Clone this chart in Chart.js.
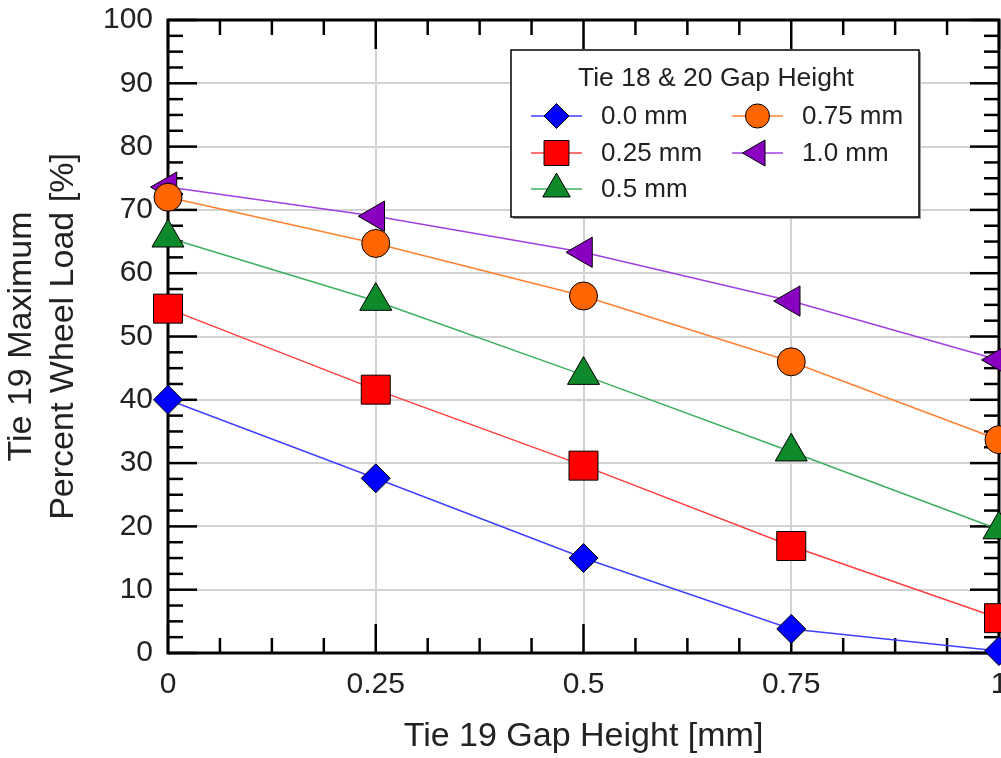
<!DOCTYPE html>
<html>
<head>
<meta charset="utf-8">
<script src="https://cdn.jsdelivr.net/npm/chart.js@4.4.1/dist/chart.umd.min.js"></script>
<style>
  html, body { margin: 0; padding: 0; background: #fff; overflow: hidden; }
  #wrap { width: 1001px; height: 758px; position: relative; }
</style>
</head>
<body>
<div id="wrap"><canvas id="gapChart"></canvas></div>
<script>
// Tie 19 gap height on the x axis
const gapX = [0, 0.25, 0.5, 0.75, 1];

// Tie 19 maximum percent wheel load, one list per tie 18 & 20 gap height
const load00 = [40.0, 27.6, 15.0, 3.8, 0.3];
const load025 = [54.4, 41.6, 29.6, 16.9, 5.5];
const load05 = [65.6, 55.6, 43.9, 31.8, 19.5];
const load075 = [72.0, 64.7, 56.4, 46.0, 33.7];
const load10 = [73.6, 69.0, 63.3, 55.6, 46.3];

const seriesNames = ['0.0 mm', '0.25 mm', '0.5 mm', '0.75 mm', '1.0 mm'];
const xTickStep = 0.25;
const yTickStep = 10;

const FONT = "'Liberation Sans', Arial, sans-serif";

const toPoints = vals => gapX.map((x, i) => ({ x: x, y: vals[i] }));

function series(label, vals, line, fill, style, radius, rotation) {
    return {
        label: label,
        data: toPoints(vals),
        borderColor: line,
        borderWidth: 1.5,
        backgroundColor: fill,
        pointBackgroundColor: fill,
        pointBorderColor: '#000',
        pointBorderWidth: 1,
        pointStyle: style,
        pointRadius: radius,
        pointRotation: rotation || 0,
        showLine: true,
        tension: 0,
        clip: false
    };
}

// inward major/minor ticks on all four sides plus the black frame
const frameTicks = {
    id: 'frameTicks',
    beforeDatasetsDraw(chart) {
        const { ctx, chartArea: a, scales: { x, y } } = chart;
        const seg = (x1, y1, x2, y2) => { ctx.beginPath(); ctx.moveTo(x1, y1); ctx.lineTo(x2, y2); ctx.stroke(); };
        ctx.save();
        ctx.strokeStyle = '#000';
        ctx.lineWidth = 2.5;
        for (let i = 0; i <= 16; i++) {
            const px = x.getPixelForValue(i * 0.0625);
            const len = i % 4 === 0 ? 29 : 15;
            seg(px, a.bottom, px, a.bottom - len);
            seg(px, a.top, px, a.top + len);
        }
        for (let i = 0; i <= 40; i++) {
            const py = y.getPixelForValue(i * 2.5);
            const len = i % 4 === 0 ? 29 : 15;
            seg(a.left, py, a.left + len, py);
            seg(a.right, py, a.right - len, py);
        }
        ctx.lineWidth = 3;
        ctx.strokeRect(a.left, a.top, a.right - a.left, a.bottom - a.top);
        ctx.restore();
    }
};

// boxed two-column legend with a title
const boxLegend = {
    id: 'boxLegend',
    afterDraw(chart) {
        const { ctx, chartArea: a } = chart;
        const bx = a.left + 343, by = a.top + 30, bw = 408, bh = 167;
        ctx.save();
        ctx.fillStyle = '#9a9a9a';
        ctx.fillRect(bx + 2, by + 2, bw, bh);
        ctx.fillStyle = '#fff';
        ctx.fillRect(bx, by, bw, bh);
        ctx.strokeStyle = '#000';
        ctx.lineWidth = 1.5;
        ctx.strokeRect(bx, by, bw, bh);

        ctx.fillStyle = '#222';
        ctx.font = '26.5px ' + FONT;
        ctx.textAlign = 'center';
        ctx.textBaseline = 'middle';
        ctx.fillText('Tie 18 & 20 Gap Height', bx + 205, by + 29);

        ctx.font = '26px ' + FONT;
        const cols = [bx + 20, bx + 221];
        const rows = [by + 66, by + 103, by + 139];
        chart.data.datasets.forEach((ds, i) => {
            const cx = cols[Math.floor(i / 3)];
            const cy = rows[i % 3];
            ctx.strokeStyle = ds.borderColor;
            ctx.lineWidth = 1.5;
            ctx.beginPath();
            ctx.moveTo(cx, cy);
            ctx.lineTo(cx + 51, cy);
            ctx.stroke();
            ctx.fillStyle = ds.pointBackgroundColor;
            ctx.strokeStyle = '#000';
            ctx.lineWidth = 1;
            Chart.helpers.drawPoint(ctx, {
                pointStyle: ds.pointStyle,
                rotation: ds.pointRotation,
                radius: ds.pointRadius * 0.86,
                borderWidth: 1
            }, cx + 25.5, cy);
            ctx.fillStyle = '#222';
            ctx.textAlign = 'left';
            ctx.fillText(ds.label, cx + 70, cy + 1);
        });
        ctx.restore();
    }
};

new Chart(document.getElementById('gapChart'), {
    type: 'scatter',
    data: {
        datasets: [
            series(seriesNames[0], load00, '#4040ff', '#0000ff', 'rectRot', 14.5),
            series(seriesNames[1], load025, '#ff4040', '#ff0000', 'rect', 20.5),
            series(seriesNames[2], load05, '#3cb060', '#0f8a2a', 'triangle', 18.5),
            series(seriesNames[3], load075, '#ff8030', '#ff6600', 'circle', 14),
            series(seriesNames[4], load10, '#a040e0', '#8a00c0', 'triangle', 17.5, -90)
        ]
    },
    options: {
        responsive: true,
        maintainAspectRatio: false,
        animation: false,
        events: [],
        layout: { autoPadding: false, padding: { top: 20, left: 0, right: 2, bottom: 0 } },
        plugins: {
            legend: { display: false },
            tooltip: { enabled: false }
        },
        scales: {
            x: {
                type: 'linear',
                min: 0,
                max: 1,
                border: { display: false },
                grid: { color: '#d2d2d2', lineWidth: 2, drawTicks: false },
                ticks: {
                    stepSize: xTickStep,
                    padding: 14,
                    color: '#222',
                    font: { family: FONT, size: 30 },
                    callback: v => String(v)
                },
                title: {
                    display: true,
                    text: 'Tie 19 Gap Height [mm]',
                    color: '#222',
                    padding: { top: 0, bottom: 1 },
                    font: { family: FONT, size: 34 }
                },
                afterFit(scale) {
                    scale.height = 105;
                    scale.paddingLeft = 0;
                    scale.paddingRight = 0;
                }
            },
            y: {
                min: 0,
                max: 100,
                border: { display: false },
                grid: { color: '#d2d2d2', lineWidth: 2, drawTicks: false },
                ticks: {
                    stepSize: yTickStep,
                    padding: 15,
                    color: '#222',
                    font: { family: FONT, size: 30 }
                },
                title: {
                    display: true,
                    text: ['Tie 19 Maximum', 'Percent Wheel Load [%]'],
                    color: '#222',
                    padding: { top: 1, bottom: 0 },
                    font: { family: FONT, size: 34, lineHeight: 1.22 }
                },
                afterFit(scale) {
                    scale.width = 168;
                    scale.paddingTop = 0;
                    scale.paddingBottom = 0;
                }
            }
        }
    },
    plugins: [frameTicks, boxLegend]
});
</script>
</body>
</html>
